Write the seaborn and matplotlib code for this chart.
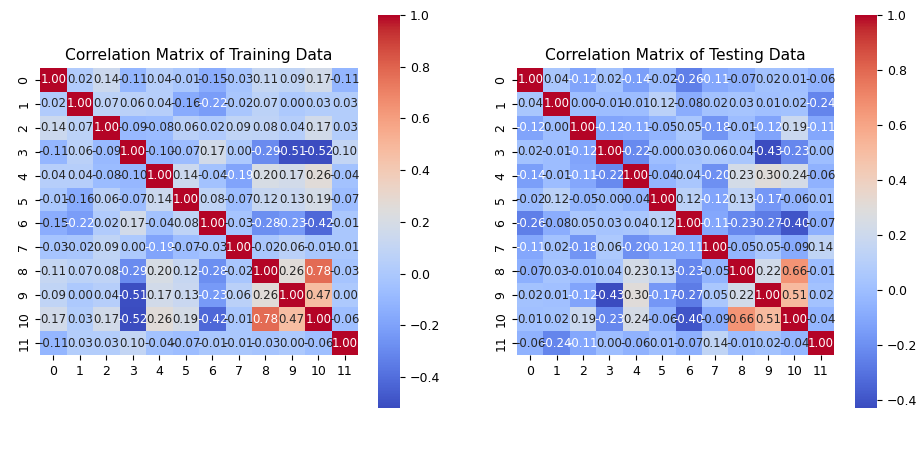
import numpy as np
import pandas as pd
import matplotlib
matplotlib.use("Agg")
import matplotlib.pyplot as plt
import seaborn as sns

features = [str(i) for i in range(12)]

train_corr = [
    [1.00, 0.02, 0.14, -0.11, 0.04, -0.01, -0.15, -0.03, 0.11, 0.09, 0.17, -0.11],
    [0.02, 1.00, 0.07, 0.06, 0.04, -0.16, -0.22, -0.02, 0.07, 0.00, 0.03, 0.03],
    [0.14, 0.07, 1.00, -0.09, -0.08, 0.06, 0.02, 0.09, 0.08, 0.04, 0.17, 0.03],
    [-0.11, 0.06, -0.09, 1.00, -0.10, -0.07, 0.17, 0.00, -0.29, -0.51, -0.52, 0.10],
    [0.04, 0.04, -0.08, -0.10, 1.00, 0.14, -0.04, -0.19, 0.20, 0.17, 0.26, -0.04],
    [-0.01, -0.16, 0.06, -0.07, 0.14, 1.00, 0.08, -0.07, 0.12, 0.13, 0.19, -0.07],
    [-0.15, -0.22, 0.02, 0.17, -0.04, 0.08, 1.00, -0.03, -0.28, -0.23, -0.42, -0.01],
    [-0.03, -0.02, 0.09, 0.00, -0.19, -0.07, -0.03, 1.00, -0.02, 0.06, -0.01, -0.01],
    [0.11, 0.07, 0.08, -0.29, 0.20, 0.12, -0.28, -0.02, 1.00, 0.26, 0.78, -0.03],
    [0.09, 0.00, 0.04, -0.51, 0.17, 0.13, -0.23, 0.06, 0.26, 1.00, 0.47, 0.00],
    [0.17, 0.03, 0.17, -0.52, 0.26, 0.19, -0.42, -0.01, 0.78, 0.47, 1.00, -0.06],
    [-0.11, 0.03, 0.03, 0.10, -0.04, -0.07, -0.01, -0.01, -0.03, 0.00, -0.06, 1.00],
]

test_corr = [
    [1.00, 0.04, -0.12, 0.02, -0.14, -0.02, -0.26, -0.11, -0.07, 0.02, 0.01, -0.06],
    [0.04, 1.00, 0.00, -0.01, -0.01, 0.12, -0.08, 0.02, 0.03, 0.01, 0.02, -0.24],
    [-0.12, 0.00, 1.00, -0.12, -0.11, -0.05, 0.05, -0.18, -0.01, -0.12, 0.19, -0.11],
    [0.02, -0.01, -0.12, 1.00, -0.22, -0.00, 0.03, 0.06, 0.04, -0.43, -0.23, 0.00],
    [-0.14, -0.01, -0.11, -0.22, 1.00, -0.04, 0.04, -0.20, 0.23, 0.30, 0.24, -0.06],
    [-0.02, 0.12, -0.05, -0.00, -0.04, 1.00, 0.12, -0.12, 0.13, -0.17, -0.06, 0.01],
    [-0.26, -0.08, 0.05, 0.03, 0.04, 0.12, 1.00, -0.11, -0.23, -0.27, -0.40, -0.07],
    [-0.11, 0.02, -0.18, 0.06, -0.20, -0.12, -0.11, 1.00, -0.05, 0.05, -0.09, 0.14],
    [-0.07, 0.03, -0.01, 0.04, 0.23, 0.13, -0.23, -0.05, 1.00, 0.22, 0.66, -0.01],
    [0.02, 0.01, -0.12, -0.43, 0.30, -0.17, -0.27, 0.05, 0.22, 1.00, 0.51, 0.02],
    [0.01, 0.02, 0.19, -0.23, 0.24, -0.06, -0.40, -0.09, 0.66, 0.51, 1.00, -0.04],
    [-0.06, -0.24, -0.11, 0.00, -0.06, 0.01, -0.07, 0.14, -0.01, 0.02, -0.04, 1.00],
]

train_df = pd.DataFrame(train_corr, index=features, columns=features)
test_df = pd.DataFrame(test_corr, index=features, columns=features)

fig = plt.figure(figsize=(9.19, 4.74), dpi=100)
W, H = 919, 474

def box(x0, y0, x1, y1):
    # pixel box -> figure fraction
    return [x0 / W, 1 - y1 / H, (x1 - x0) / W, (y1 - y0) / H]

ax1 = fig.add_axes(box(40, 68, 358, 355))
cax1 = fig.add_axes(box(378, 15, 400, 408))
ax2 = fig.add_axes(box(517, 68, 834, 355))
cax2 = fig.add_axes(box(855, 15, 877, 408))

for ax, cax, df, title in [(ax1, cax1, train_df, 'Correlation Matrix of Training Data'),
                           (ax2, cax2, test_df, 'Correlation Matrix of Testing Data')]:
    sns.heatmap(df, annot=True, fmt='.2f', cmap='coolwarm', ax=ax, cbar_ax=cax,
                annot_kws={'size': 8.5})
    ax.set_title(title, fontsize=11.2)
    ax.tick_params(labelsize=9)
    cax.tick_params(labelsize=9)

fig.savefig('out.png', dpi=100)
